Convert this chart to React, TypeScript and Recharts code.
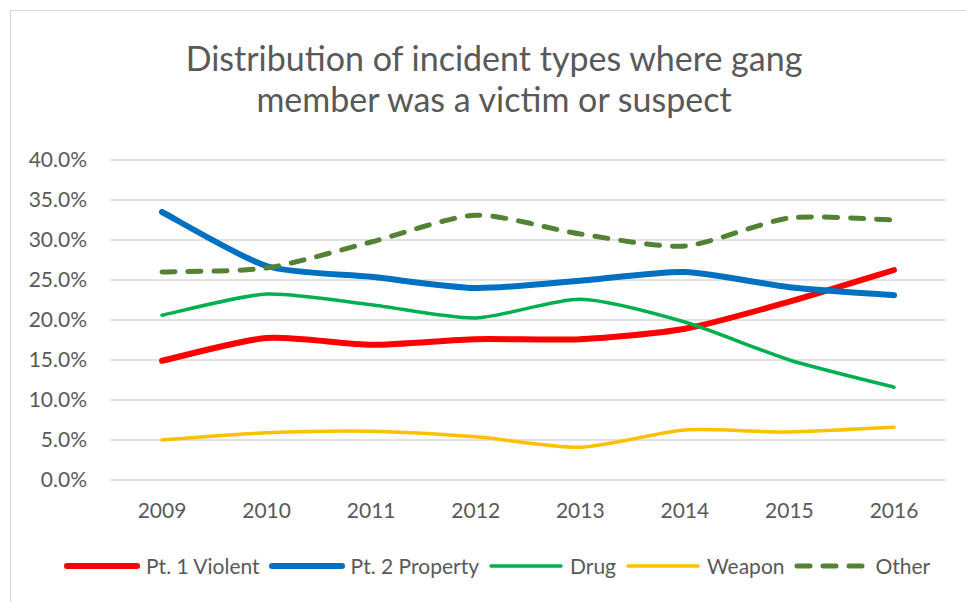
import React from 'react';
import { LineChart, Line, CartesianGrid, XAxis, YAxis } from 'recharts';

const years = ['2009', '2010', '2011', '2012', '2013', '2014', '2015', '2016'];
const violent = [14.9, 17.75, 16.9, 17.6, 17.6, 18.9, 22.3, 26.25];
const property = [33.5, 26.75, 25.4, 24.0, 24.9, 26.0, 24.1, 23.1];
const drug = [20.6, 23.25, 21.9, 20.25, 22.6, 19.75, 15.0, 11.6];
const weapon = [5.0, 5.9, 6.1, 5.4, 4.1, 6.25, 6.0, 6.6];
const other = [26.0, 26.5, 29.75, 33.1, 30.75, 29.25, 32.75, 32.5];
const yTicks = [0, 5, 10, 15, 20, 25, 30, 35, 40];

const data = years.map((year, i) => ({
  year,
  violent: violent[i],
  property: property[i],
  drug: drug[i],
  weapon: weapon[i],
  other: other[i],
}));

const FONT = 'Lato, "Liberation Sans", sans-serif';
const TEXT = '#595959';

const series = [
  { key: 'violent', name: 'Pt. 1 Violent', color: '#FF0000', width: 6 },
  { key: 'property', name: 'Pt. 2 Property', color: '#0070C0', width: 6 },
  { key: 'drug', name: 'Drug', color: '#00B050', width: 3.5 },
  { key: 'weapon', name: 'Weapon', color: '#FFC000', width: 3.5 },
  { key: 'other', name: 'Other', color: '#548235', width: 5, dash: '13 13' },
];

// Excel style smoothed line (softened catmull-rom through the points)
const smoothCurve = (context: any) => {
  let pts: [number, number][] = [];
  return {
    areaStart() {},
    areaEnd() {},
    lineStart() {
      pts = [];
    },
    point(x: number, y: number) {
      pts.push([x, y]);
    },
    lineEnd() {
      if (!pts.length) return;
      const t = 0.12;
      context.moveTo(pts[0][0], pts[0][1]);
      for (let i = 0; i < pts.length - 1; i++) {
        const p0 = pts[i - 1] || pts[i];
        const p1 = pts[i];
        const p2 = pts[i + 1];
        const p3 = pts[i + 2] || p2;
        context.bezierCurveTo(
          p1[0] + (p2[0] - p0[0]) * t,
          p1[1] + (p2[1] - p0[1]) * t,
          p2[0] - (p3[0] - p1[0]) * t,
          p2[1] - (p3[1] - p1[1]) * t,
          p2[0],
          p2[1]
        );
      }
    },
  };
};

const ChartLegend = () => (
  <div
    style={{
      position: 'absolute',
      left: 63,
      top: 553,
      display: 'flex',
      alignItems: 'center',
      fontFamily: FONT,
      fontSize: 21,
      color: TEXT,
      whiteSpace: 'nowrap',
    }}
  >
    {series.map((s) => (
      <div key={s.key} style={{ display: 'flex', alignItems: 'center', marginRight: 8 }}>
        <svg width={78} height={12} style={{ marginRight: 5 }}>
          <line
            x1={4}
            y1={6}
            x2={74}
            y2={6}
            stroke={s.color}
            strokeWidth={s.width}
            strokeLinecap="round"
            strokeDasharray={s.dash}
          />
        </svg>
        <span>{s.name}</span>
      </div>
    ))}
  </div>
);

export default function App() {
  return (
    <div style={{ position: 'absolute', left: 0, top: 0, width: 966, height: 602, background: '#fff', overflow: 'hidden' }}>
      <div
        style={{
          position: 'absolute',
          left: 10,
          top: 10,
          width: 1000,
          height: 700,
          border: '1px solid #d9d9d9',
        }}
      />
      <div
        style={{
          position: 'absolute',
          left: 0,
          top: 37,
          width: 988,
          textAlign: 'center',
          fontFamily: FONT,
          fontSize: 34,
          lineHeight: '41px',
          color: TEXT,
        }}
      >
        Distribution of incident types where gang
        <br />
        member was a victim or suspect
      </div>
      <div style={{ position: 'absolute', left: 0, top: 0 }}>
        <LineChart width={966} height={602} data={data} margin={{ top: 160, right: 20, bottom: 92, left: 0 }}>
          <CartesianGrid vertical={false} stroke="#d9d9d9" strokeWidth={1.5} />
          <XAxis
            dataKey="year"
            height={30}
            axisLine={false}
            tickLine={false}
            tickSize={0}
            tickMargin={23}
            padding={{ left: 52, right: 52 }}
            tick={{ fill: TEXT, fontSize: 21, fontFamily: FONT }}
          />
          <YAxis
            width={110}
            domain={[0, 40]}
            ticks={yTicks}
            axisLine={false}
            tickLine={false}
            tickSize={0}
            tickMargin={23}
            tickFormatter={(v: number) => `${v.toFixed(1)}%`}
            tick={{ fill: TEXT, fontSize: 21, fontFamily: FONT }}
          />
          {series.map((s) => (
            <Line
              key={s.key}
              type={smoothCurve as any}
              dataKey={s.key}
              name={s.name}
              stroke={s.color}
              strokeWidth={s.width}
              strokeDasharray={s.dash}
              strokeLinecap="round"
              dot={false}
              activeDot={false}
              isAnimationActive={false}
            />
          ))}
        </LineChart>
      </div>
      <ChartLegend />
    </div>
  );
}
